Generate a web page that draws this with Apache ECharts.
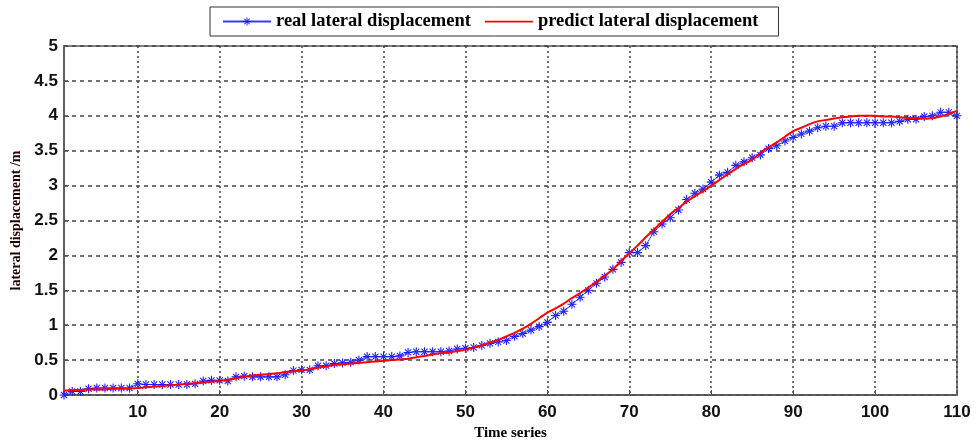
<!DOCTYPE html>
<html>
<head>
<meta charset="utf-8">
<script src="https://cdn.jsdelivr.net/npm/echarts@6/dist/echarts.min.js"></script>
<style>
html,body{margin:0;padding:0;background:#fff;}
#chart{width:979px;height:446px;}
</style>
</head>
<body>
<div id="chart"></div>
<script>
const timeSteps = [];
for (let i = 1; i <= 110; i++) timeSteps.push(i);

const realDisplacement = [
  0.00, 0.05, 0.05, 0.09, 0.10, 0.10, 0.10, 0.10, 0.10, 0.16,
  0.15, 0.15, 0.15, 0.15, 0.15, 0.15, 0.16, 0.20, 0.21, 0.21,
  0.20, 0.26, 0.27, 0.26, 0.26, 0.26, 0.26, 0.29, 0.35, 0.36,
  0.36, 0.42, 0.42, 0.45, 0.46, 0.47, 0.50, 0.55, 0.55, 0.55,
  0.55, 0.56, 0.61, 0.62, 0.62, 0.62, 0.62, 0.63, 0.66, 0.67,
  0.68, 0.71, 0.74, 0.76, 0.78, 0.84, 0.88, 0.93, 0.98, 1.04,
  1.14, 1.20, 1.30, 1.40, 1.50, 1.60, 1.69, 1.80, 1.90, 2.04,
  2.04, 2.14, 2.34, 2.45, 2.54, 2.65, 2.80, 2.89, 2.95, 3.05,
  3.15, 3.19, 3.29, 3.34, 3.40, 3.44, 3.53, 3.57, 3.64, 3.69,
  3.74, 3.78, 3.83, 3.85, 3.85, 3.90, 3.90, 3.90, 3.90, 3.90,
  3.90, 3.90, 3.92, 3.95, 3.95, 3.99, 4.00, 4.05, 4.05, 4.00
];

const predictDisplacement = [
  0.06, 0.07, 0.07, 0.08, 0.08, 0.08, 0.09, 0.09, 0.09, 0.10,
  0.11, 0.12, 0.13, 0.14, 0.15, 0.16, 0.17, 0.18, 0.19, 0.20,
  0.22, 0.24, 0.26, 0.28, 0.29, 0.30, 0.31, 0.33, 0.34, 0.35,
  0.37, 0.39, 0.41, 0.43, 0.44, 0.45, 0.46, 0.47, 0.48, 0.49,
  0.50, 0.51, 0.52, 0.54, 0.56, 0.58, 0.60, 0.61, 0.63, 0.65,
  0.68, 0.71, 0.75, 0.79, 0.84, 0.89, 0.95, 1.02, 1.10, 1.18,
  1.24, 1.31, 1.39, 1.46, 1.54, 1.62, 1.71, 1.80, 1.92, 2.03,
  2.14, 2.26, 2.37, 2.48, 2.59, 2.68, 2.77, 2.85, 2.92, 3.00,
  3.08, 3.16, 3.24, 3.31, 3.37, 3.47, 3.55, 3.62, 3.70, 3.78,
  3.83, 3.88, 3.92, 3.94, 3.96, 3.98, 3.99, 4.00, 4.00, 4.00,
  3.99, 3.99, 3.98, 3.97, 3.97, 3.96, 3.97, 3.99, 4.03, 4.07
];

const xTickValues = [10, 20, 30, 40, 50, 60, 70, 80, 90, 100, 110];
const seriesNames = ['real lateral displacement', 'predict lateral displacement'];
const xAxisTitle = 'Time series';
const yAxisTitle = 'lateral displacement /m';

const asterisk = 'path://M4.4,0h1.2v10h-1.2z M0,4.4h10v1.2h-10z M1.2,2.0l0.8,-0.8l6.8,6.8l-0.8,0.8z M8.8,2.0l-0.8,-0.8l-6.8,6.8l0.8,0.8z';
const lineIcon = 'path://M0,0h0.01v0.01h-0.01z M0,4.2h48v1.8h-48z M0,9.99h0.01v0.01h-0.01z';

const chart = echarts.init(document.getElementById('chart'), null, {renderer: 'canvas'});
chart.setOption({
  backgroundColor: '#ffffff',
  animation: false,
  legend: {
    left: 210,
    top: 7,
    padding: [5, 20, 5, 12],
    itemGap: 14,
    itemWidth: 48,
    itemHeight: 10,
    borderColor: '#333',
    borderWidth: 1,
    backgroundColor: '#fff',
    textStyle: {fontFamily: 'Liberation Serif', fontWeight: 'bold', fontSize: 18.5, color: '#000'},
    data: [
      {name: seriesNames[0]},
      {name: seriesNames[1], icon: lineIcon}
    ]
  },
  grid: {
    left: 64, right: 22, top: 46, bottom: 41,
    show: true, borderColor: '#555', borderWidth: 1.5, backgroundColor: 'transparent'
  },
  xAxis: {
    type: 'value',
    min: 1, max: 110,
    name: xAxisTitle,
    nameLocation: 'middle',
    nameGap: 31,
    nameTextStyle: {fontFamily: 'Liberation Serif', fontWeight: 'bold', fontSize: 15, color: '#000'},
    axisLine: {show: true, onZero: false, lineStyle: {color: '#555', width: 1.5}},
    axisTick: {show: true, inside: true, length: 5, customValues: xTickValues, lineStyle: {color: '#555'}},
    axisLabel: {customValues: xTickValues, margin: 9, fontFamily: 'Liberation Sans', fontWeight: 'bold', fontSize: 17, color: '#111'},
    splitLine: {show: true, lineStyle: {color: '#444', type: [2, 3], width: 1.5}}
  },
  yAxis: {
    type: 'value',
    min: 0, max: 5, interval: 0.5,
    name: yAxisTitle,
    nameLocation: 'middle',
    nameGap: 38,
    nameRotate: 90,
    nameTextStyle: {fontFamily: 'Liberation Serif', fontWeight: 'bold', fontSize: 14, color: '#200'},
    axisLine: {show: true, lineStyle: {color: '#555', width: 1.5}},
    axisTick: {show: true, inside: true, length: 5, lineStyle: {color: '#555'}},
    axisLabel: {margin: 6, fontFamily: 'Liberation Sans', fontWeight: 'bold', fontSize: 17, color: '#111'},
    splitLine: {show: true, lineStyle: {color: '#444', type: [4, 4], width: 1.5}}
  },
  series: [
    {
      name: seriesNames[0],
      type: 'line',
      data: timeSteps.map((t, i) => [t, realDisplacement[i]]),
      symbol: asterisk,
      symbolSize: 9,
      showAllSymbol: true,
      clip: false,
      itemStyle: {color: '#1a1aff'},
      lineStyle: {color: '#3a3aff', width: 1},
      z: 2
    },
    {
      name: seriesNames[1],
      type: 'line',
      data: timeSteps.map((t, i) => [t, predictDisplacement[i]]),
      symbol: 'none',
      smooth: 0.3,
      clip: false,
      itemStyle: {color: '#ff0000'},
      lineStyle: {color: '#ff0000', width: 2},
      z: 3
    }
  ]
});
</script>
</body>
</html>
